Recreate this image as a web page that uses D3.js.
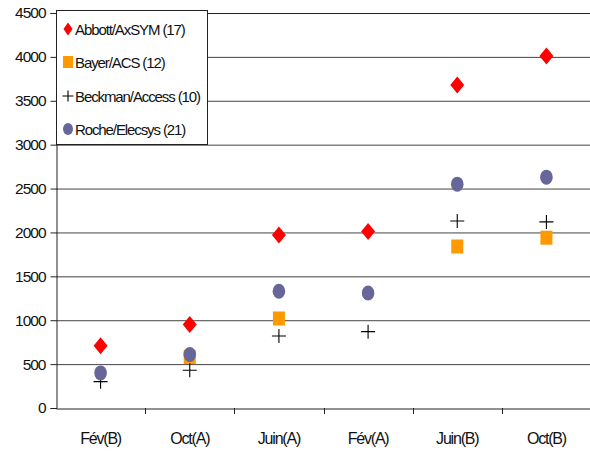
<!DOCTYPE html>
<html><head><meta charset="utf-8">
<script src="https://cdn.jsdelivr.net/npm/d3@7"></script>
<style>body{margin:0;background:#fff}svg{display:block;font-family:"Liberation Sans",Arial,sans-serif}</style>
</head><body><svg id="c" width="590" height="451"></svg>
<script>
const categories = ["Fév(B)","Oct(A)","Juin(A)","Fév(A)","Juin(B)","Oct(B)"];
const abbott  = [710, 950, 1970, 2010, 3680, 4010];
const bayer   = [null, 580, 1020, null, 1840, 1940];
const beckman = [300, 430, 820, 870, 2130, 2120];
const roche   = [400, 610, 1330, 1310, 2550, 2630];
const yTicks = [0,500,1000,1500,2000,2500,3000,3500,4000,4500];
const seriesNames = ["Abbott/AxSYM (17)","Bayer/ACS (12)","Beckman/Access (10)","Roche/Elecsys (21)"];

const svg = d3.select("#c");
const L=56, R=591, T=13, B=408;
const x = d3.scaleBand().domain(categories).range([L,R]);
const y = d3.scaleLinear().domain([0,4500]).range([B,T]);

// gridlines
svg.append("g").selectAll("line").data(yTicks.filter(d=>d>0)).join("line")
  .attr("x1",L).attr("x2",R).attr("y1",d=>y(d)+0.5).attr("y2",d=>y(d)+0.5)
  .attr("stroke","#444").attr("stroke-width",1);

// y axis
const ya = svg.append("g").attr("transform",`translate(${L+0.5},0)`)
  .call(d3.axisLeft(y).tickValues(yTicks).tickSize(6).tickPadding(5).tickFormat(d3.format("d")));
ya.select(".domain").attr("stroke","#222");
ya.selectAll(".tick line").attr("stroke","#222");
ya.selectAll("text").attr("font-size",15.5).attr("letter-spacing","-1px").attr("fill","#111")
  .attr("font-family","'Liberation Sans',Arial,sans-serif");

// x axis
const xa = svg.append("g").attr("transform",`translate(0,${B+0.5})`)
  .call(d3.axisBottom(x).tickSize(0).tickPadding(24));
xa.select(".domain").attr("stroke","#222");
xa.selectAll("text").attr("font-size",16).attr("letter-spacing","-1.2px").attr("fill","#111")
  .attr("font-family","'Liberation Sans',Arial,sans-serif");
// x tick marks at category boundaries
svg.append("g").selectAll("line").data(categories.slice(1)).join("line")
  .attr("x1",d=>Math.round(x(d))+0.5).attr("x2",d=>Math.round(x(d))+0.5)
  .attr("y1",B).attr("y2",B+6).attr("stroke","#222");

const cx = (i)=>x(categories[i])+x.bandwidth()/2;

function diamond(g, px, py, w=14, h=17){
  g.append("path").attr("d",`M${px},${py-h/2}L${px+w/2},${py}L${px},${py+h/2}L${px-w/2},${py}Z`).attr("fill","#ff0000");
}
function square(g, px, py, s=12){
  g.append("rect").attr("x",px-s/2).attr("y",py-s/2-1).attr("width",s).attr("height",s+2).attr("fill","#ff9900");
}
function plus(g, px, py, s=14){
  g.append("path").attr("d",`M${px-s/2},${py}H${px+s/2}M${px},${py-s/2}V${py+s/2}`).attr("stroke","#000").attr("stroke-width",1.1);
}
function circle(g, px, py){
  g.append("ellipse").attr("cx",px).attr("cy",py).attr("rx",6.3).attr("ry",7.5).attr("fill","#666699");
}

const marks = svg.append("g");
abbott.forEach((v,i)=>{ if(v!=null) diamond(marks, cx(i), y(v)); });
bayer.forEach((v,i)=>{ if(v!=null) square(marks, cx(i), y(v)); });
beckman.forEach((v,i)=>{ if(v!=null) plus(marks, cx(i), y(v)); });
roche.forEach((v,i)=>{ if(v!=null) circle(marks, cx(i), y(v)); });

// top border
svg.append("line").attr("x1",L).attr("x2",R).attr("y1",T+0.5).attr("y2",T+0.5).attr("stroke","#222");

// legend
const lg = svg.append("g");
lg.append("rect").attr("x",56.5).attr("y",10.5).attr("width",151).attr("height",134)
  .attr("fill","#fff").attr("stroke","#222");
const rowY = [29, 62, 96, 129];
const drawers = [
  (py)=>diamond(lg, 68, py, 9, 13),
  (py)=>square(lg, 68, py, 10),
  (py)=>plus(lg, 68, py, 11),
  (py)=>{ lg.append("ellipse").attr("cx",68).attr("cy",py).attr("rx",5).attr("ry",6).attr("fill","#666699"); }
];
seriesNames.forEach((n,i)=>{
  drawers[i](rowY[i]);
  lg.append("text").attr("x",75).attr("y",rowY[i]+5.5).attr("font-size",15)
    .attr("letter-spacing","-1.1px").attr("fill","#111").text(n);
});
</script></body></html>
